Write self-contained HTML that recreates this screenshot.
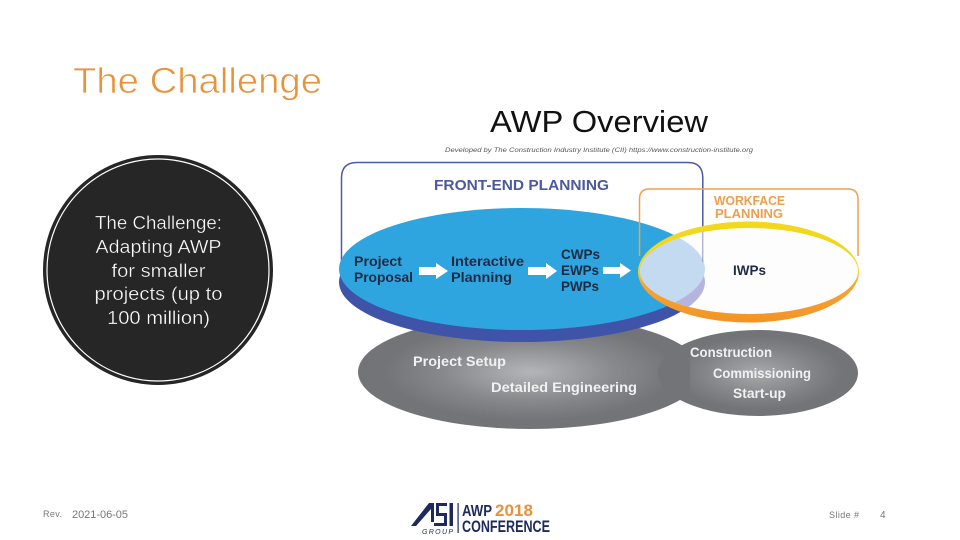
<!DOCTYPE html>
<html><head><meta charset="utf-8"><style>
html,body{margin:0;padding:0;background:#fff;width:960px;height:540px;overflow:hidden}
svg{display:block}
text{font-family:"Liberation Sans",sans-serif}
.b{font-weight:bold;fill:#1f2a44;font-size:14px}
.g{font-weight:bold;fill:#f1f1f2;font-size:14px}
.c{fill:#fff;font-size:18.5px;text-anchor:middle;stroke:#262626;stroke-width:.35px}
</style></head><body>
<svg width="960" height="540" viewBox="0 0 960 540" xmlns="http://www.w3.org/2000/svg">
<defs>
<radialGradient id="g1" cx="0.5" cy="0.5" r="0.5"><stop offset="0" stop-color="#b4b5b8"/><stop offset="0.5" stop-color="#88898d"/><stop offset="0.85" stop-color="#737478"/><stop offset="1" stop-color="#737478"/></radialGradient>
<radialGradient id="g2" cx="0.5" cy="0.5" r="0.5"><stop offset="0" stop-color="#a8a9ac"/><stop offset="0.55" stop-color="#838488"/><stop offset="0.85" stop-color="#737478"/><stop offset="1" stop-color="#737478"/></radialGradient>
<linearGradient id="yo" x1="0" y1="0" x2="0" y2="1"><stop offset="0" stop-color="#f2d91c"/><stop offset="0.5" stop-color="#f3d21f"/><stop offset="0.62" stop-color="#f3a733"/><stop offset="1" stop-color="#f39325"/></linearGradient>
<clipPath id="inner"><ellipse cx="749" cy="271" rx="109" ry="43"/></clipPath>
</defs>
<rect width="960" height="540" fill="#fff"/>

<text x="73" y="93" font-size="36" fill="#e8923a" stroke="#fff" stroke-width=".7" textLength="249" lengthAdjust="spacingAndGlyphs">The Challenge</text>
<text x="490" y="132" font-size="31" fill="#111" textLength="218" lengthAdjust="spacingAndGlyphs">AWP Overview</text>
<text x="445" y="152" font-size="6.5" font-style="italic" fill="#555" textLength="308" lengthAdjust="spacingAndGlyphs">Developed by The Construction Industry Institute (CII) https://www.construction-institute.org</text>

<!-- Circle -->
<circle cx="158" cy="270" r="115" fill="#262626"/>
<circle cx="158" cy="270" r="111" fill="none" stroke="#fff" stroke-width="1.2"/>
<text class="c" x="158.500" y="229" textLength="127" lengthAdjust="spacingAndGlyphs">The Challenge:</text>
<text class="c" x="158.500" y="253" textLength="126" lengthAdjust="spacingAndGlyphs">Adapting AWP</text>
<text class="c" x="158.500" y="277" textLength="94" lengthAdjust="spacingAndGlyphs">for smaller</text>
<text class="c" x="158.500" y="300" textLength="128" lengthAdjust="spacingAndGlyphs">projects (up to</text>
<text class="c" x="158.500" y="324" textLength="103" lengthAdjust="spacingAndGlyphs">100 million)</text>

<!-- Grey ellipses -->
<ellipse cx="530" cy="372" rx="172" ry="57" fill="url(#g1)"/>
<ellipse cx="758" cy="373" rx="100" ry="43" fill="url(#g2)"/>
<path d="M672 343 Q680 348 690 346 V399 Q680 398 672 402Z" fill="#737478"/>

<!-- Front end -->
<path d="M341.500 262 V178 Q341.500 162.500 357 162.500 H688 Q702.800 162.500 702.800 178 V262" fill="none" stroke="#4d5ba3" stroke-width="1.500"/>
<ellipse cx="522" cy="282" rx="183" ry="60" fill="#3f53a8"/>
<ellipse cx="522" cy="269" rx="183" ry="61" fill="#2fa5df"/>

<!-- Workface -->
<path d="M639.500 256 V199 Q639.500 189 649.500 189 H848 Q858 189 858 199 V256" fill="none" stroke="#eda24e" stroke-width="1.500"/>
<ellipse cx="748.500" cy="272" rx="110.500" ry="50.500" fill="url(#yo)"/>
<ellipse cx="749" cy="271" rx="109" ry="43" fill="#fdfdfe"/>
<g clip-path="url(#inner)">
<ellipse cx="522" cy="282" rx="183" ry="60" fill="#b4b4dc"/>
<ellipse cx="522" cy="269" rx="183" ry="61" fill="#c4daf0"/>
<line x1="702.800" y1="225" x2="702.800" y2="262" stroke="#8d94c0" stroke-width="1"/>
</g>

<!-- Labels -->
<text x="434" y="190" font-size="15" font-weight="bold" fill="#4a5a9c" textLength="175" lengthAdjust="spacingAndGlyphs">FRONT-END PLANNING</text>
<text x="714" y="205" font-size="13" font-weight="bold" fill="#ec9f4e" textLength="71" lengthAdjust="spacingAndGlyphs">WORKFACE</text>
<text x="715" y="218" font-size="13" font-weight="bold" fill="#ec9f4e" textLength="68" lengthAdjust="spacingAndGlyphs">PLANNING</text>

<text class="b" x="354" y="266" textLength="48" lengthAdjust="spacingAndGlyphs">Project</text>
<text class="b" x="354" y="282" textLength="59" lengthAdjust="spacingAndGlyphs">Proposal</text>
<text class="b" x="451" y="266" textLength="73" lengthAdjust="spacingAndGlyphs">Interactive</text>
<text class="b" x="451" y="282" textLength="61" lengthAdjust="spacingAndGlyphs">Planning</text>
<text class="b" x="561" y="259" textLength="39" lengthAdjust="spacingAndGlyphs">CWPs</text>
<text class="b" x="561" y="275" textLength="38" lengthAdjust="spacingAndGlyphs">EWPs</text>
<text class="b" x="561" y="291" textLength="38" lengthAdjust="spacingAndGlyphs">PWPs</text>
<text class="b" x="733" y="275" textLength="33" lengthAdjust="spacingAndGlyphs">IWPs</text>

<!-- Arrows -->
<path d="M419 267 H436 V263 L448 271 L436 279 V275 H419Z" fill="#fff"/>
<path d="M528 267 H546 V263 L557 271 L546 279 V275 H528Z" fill="#fff"/>
<path d="M603 267 H620 V263 L631 270.500 L620 278 V274 H603Z" fill="#fff"/>

<text class="g" x="413" y="366" font-size="15" textLength="93" lengthAdjust="spacingAndGlyphs">Project Setup</text>
<text class="g" x="491" y="392" textLength="146" lengthAdjust="spacingAndGlyphs">Detailed Engineering</text>
<text class="g" x="690" y="357" textLength="82" lengthAdjust="spacingAndGlyphs">Construction</text>
<text class="g" x="713" y="378" textLength="98" lengthAdjust="spacingAndGlyphs">Commissioning</text>
<text class="g" x="733" y="398" textLength="53" lengthAdjust="spacingAndGlyphs">Start-up</text>

<!-- Footer -->
<text x="43" y="517" font-size="9" fill="#777" textLength="19" lengthAdjust="spacing">Rev.</text>
<text x="72" y="518" font-size="11" fill="#777" textLength="56" lengthAdjust="spacing">2021-06-05</text>
<text x="829" y="518" font-size="9" fill="#777" textLength="30" lengthAdjust="spacing">Slide #</text>
<text x="880" y="518" font-size="10" fill="#777">4</text>

<!-- Logo -->
<path d="M411 526 L429 503 H434 L434 522 H431 L431 509 L416 526Z" fill="#1f2a5c"/>
<path d="M436 503 H447 V506 H439 V513 H447 V526 H434 V523 H444 V516 H436Z" fill="#1f2a5c"/>
<rect x="449.500" y="503" width="3.500" height="23" fill="#1f2a5c"/>
<text x="422" y="534" font-size="7" font-style="italic" fill="#1f2a5c" textLength="31" lengthAdjust="spacing">GROUP</text>
<rect x="457.500" y="503" width="1.200" height="30" fill="#1f2a5c"/>
<text x="462" y="516" font-size="16" font-weight="bold" fill="#1f2a5c" textLength="30" lengthAdjust="spacingAndGlyphs">AWP</text>
<text x="495" y="516" font-size="17" font-weight="bold" fill="#e8923a" textLength="38" lengthAdjust="spacingAndGlyphs">2018</text>
<text x="462" y="532" font-size="17" font-weight="bold" fill="#1f2a5c" textLength="88" lengthAdjust="spacingAndGlyphs">CONFERENCE</text>
</svg>
</body></html>
